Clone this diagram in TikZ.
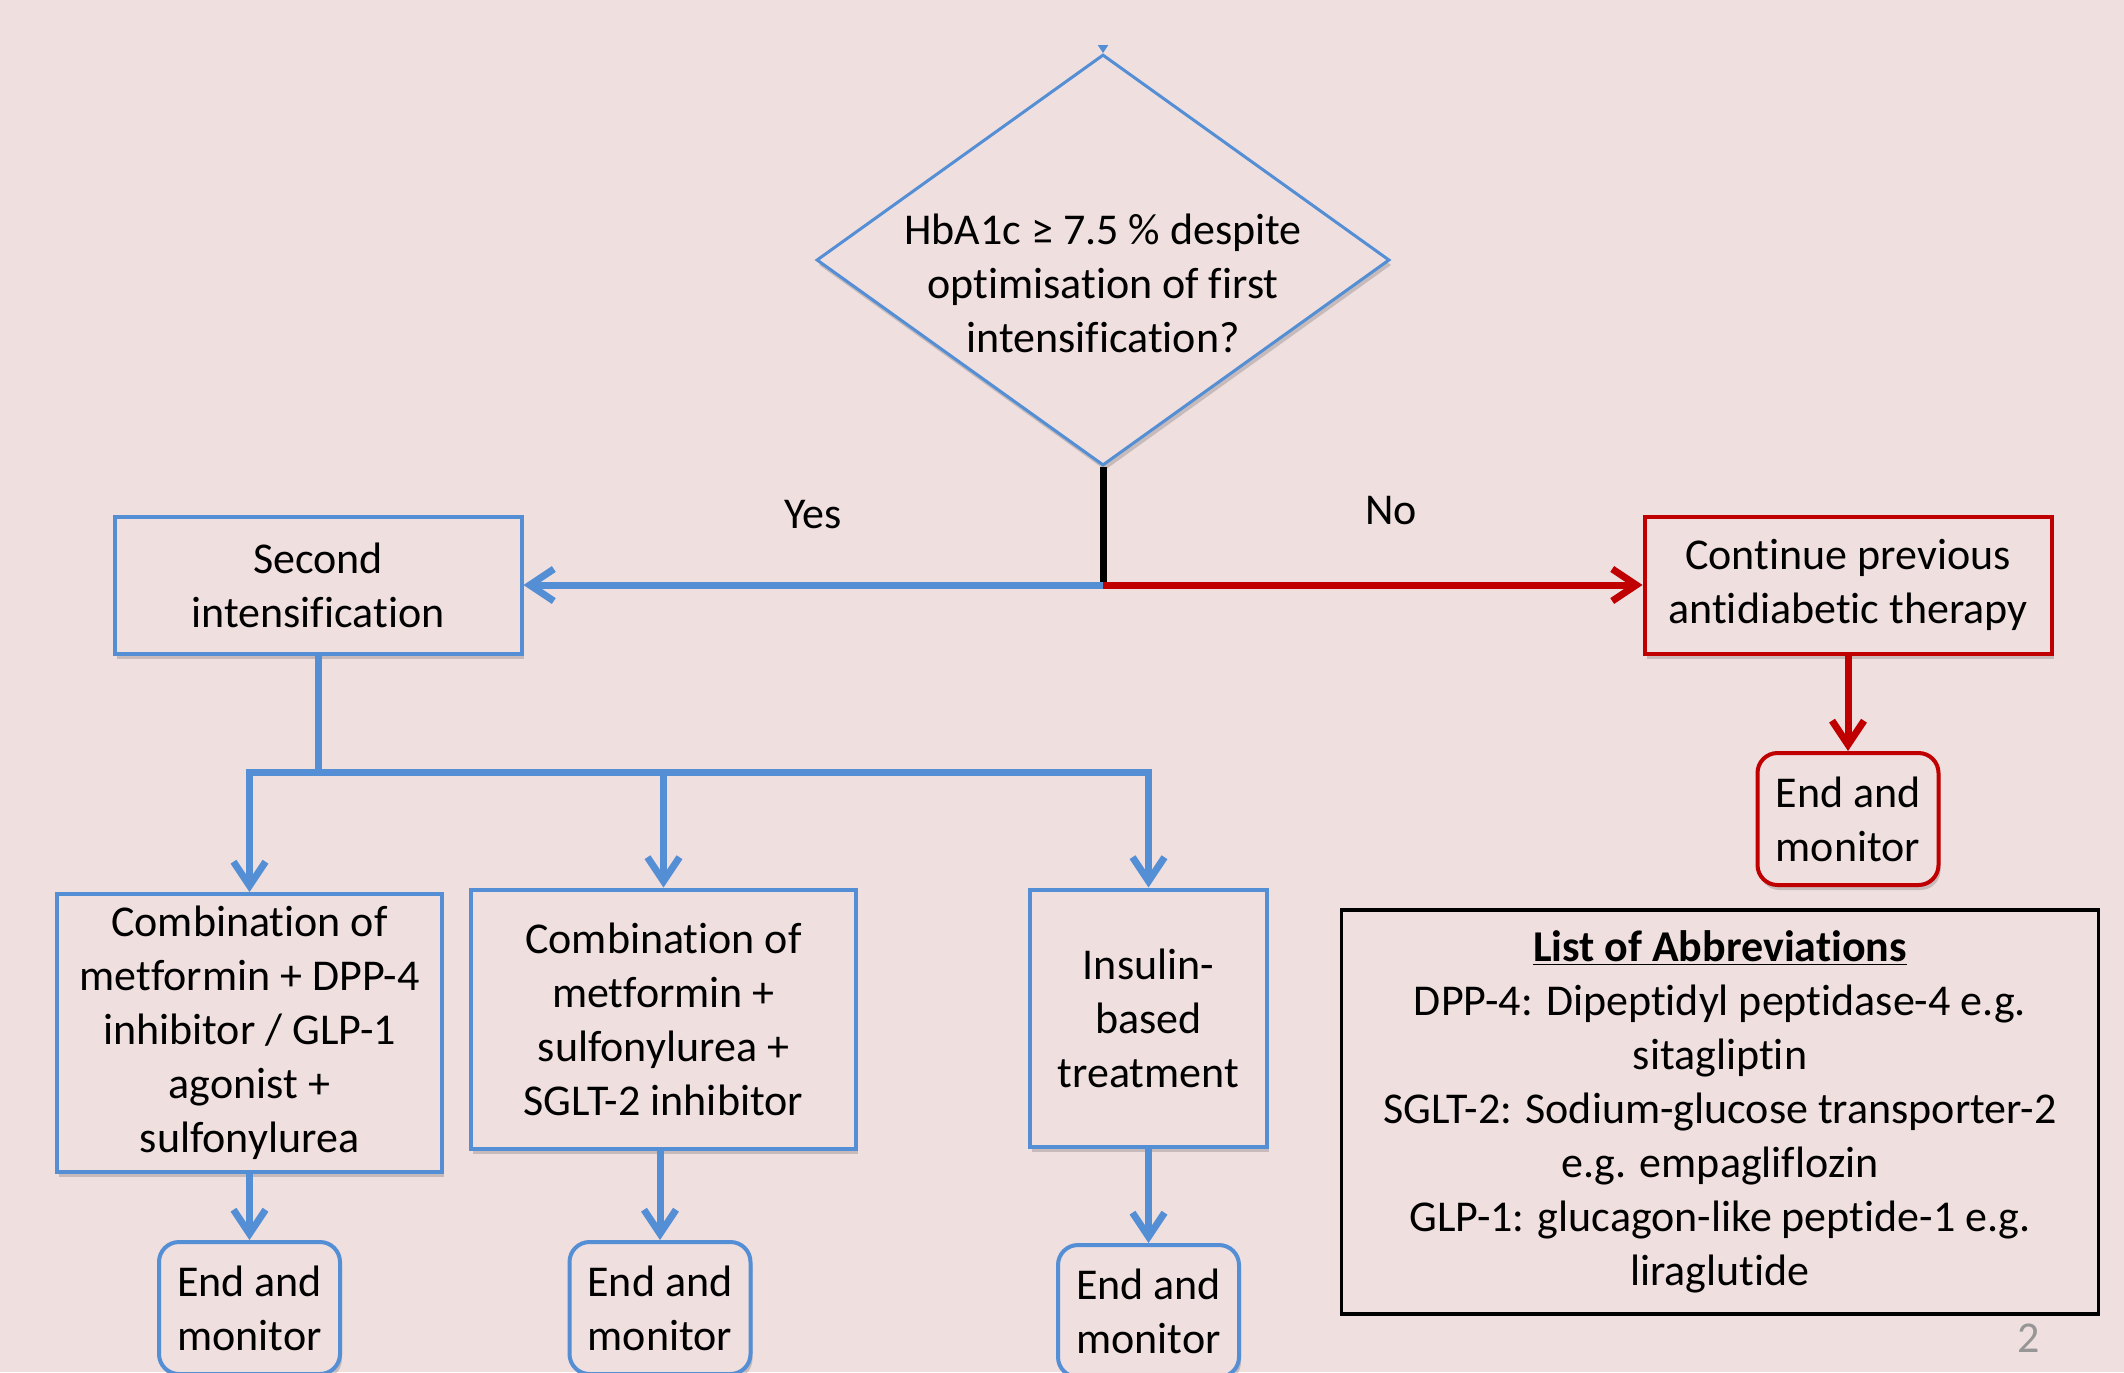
\documentclass[tikz,border=0pt]{standalone}
\usepackage{fontspec}
\setmainfont{Carlito}[Ligatures=NoCommon]
\usetikzlibrary{shapes.geometric,arrows.meta,shadows}

\definecolor{slidebg}{RGB}{239,223,223}
\definecolor{flowblue}{RGB}{84,142,213}
\definecolor{flowred}{RGB}{192,0,0}
\definecolor{pagegray}{RGB}{150,150,150}

\tikzset{every picture/.style={line width=0.75pt}}
\tikzset{
  boxshadow/.style={drop shadow={shadow xshift=1pt,shadow yshift=-2.5pt,opacity=0.25,fill=black!70}},
  stepbox/.style={draw=flowblue,line width=2pt,fill=slidebg,align=center,inner sep=0pt,boxshadow},
  nobox/.style={stepbox,draw=flowred},
  endbox/.style={stepbox,rounded corners=10pt,minimum width=90.5pt,minimum height=66pt},
  decision/.style={diamond,draw=flowblue,line width=1.5pt,fill=slidebg,inner sep=0pt,
    minimum width=286.5pt,minimum height=205.5pt,boxshadow},
  abbrbox/.style={draw=black,line width=1.75pt,align=center,inner sep=0pt,
    minimum width=378.5pt,minimum height=202pt},
  flow/.style={line width=3.5pt,color=flowblue},
  arr/.style={-{Straight Barb[length=12pt,width=16pt]}},
}

\begin{document}
\begin{tikzpicture}[x=0.5pt,y=0.5pt,yscale=-1,font=\fontsize{22}{27}\selectfont]
\useasboundingbox (0,0) rectangle (2124,1372);
\clip (0,0) rectangle (2124,1372);
\fill[slidebg] (0,0) rectangle (2124,1372);

% decision
\node[decision] (q) at (1103,260) {};
\node[align=center,inner sep=0pt] (qtext) at (1103,283) {HbA1c ≥ 7.5 \% despite\\optimisation of first\\intensification?};

% second level
\node[stepbox,minimum width=203.5pt,minimum height=68.5pt] (second) at (318,585) {Second\\intensification};
\node[nobox,minimum width=203.5pt,minimum height=68.5pt] (cont) at (1848,585) {Continue previous\\antidiabetic therapy};
\node[endbox,draw=flowred] (endR) at (1848,819) {End and\\monitor};

% options
\node[stepbox,minimum width=192.5pt,minimum height=139pt] (boxA) at (249.5,1033) {Combination of\\metformin + DPP-4\\inhibitor / GLP-1\\agonist +\\sulfonylurea};
\node[stepbox,minimum width=192.5pt,minimum height=129.5pt] (boxB) at (663.5,1019) {Combination of\\metformin +\\sulfonylurea +\\SGLT-2 inhibitor};
\node[stepbox,minimum width=118.5pt,minimum height=128.5pt] (boxC) at (1148.5,1018) {Insulin-\\based\\treatment};

\node[endbox] (endA) at (249.5,1308) {End and\\monitor};
\node[endbox] (endB) at (660,1308) {End and\\monitor};
\node[endbox] (endC) at (1148.5,1311) {End and\\monitor};

% labels
\node (yes) at (813,515) {Yes};
\node (no) at (1391,511) {No};

% abbreviations
\node[abbrbox] (abbr) at (1720,1112) {\underline{\textbf{List of Abbreviations}}\\
  DPP-4: Dipeptidyl peptidase-4 e.g.\\sitagliptin\\
  SGLT-2: Sodium-glucose transporter-2\\e.g. empagliflozin\\
  GLP-1: glucagon-like peptide-1 e.g.\\liraglutide};
\node[text=pagegray] (pagenum) at (2029,1338) {2};

% connectors
\coordinate (qin) at (1103,0);
\coordinate (fork) at (q.south |- second.east);
\coordinate (bus) at (318,772);
\begin{scope}
\clip (0,45) rectangle (2124,1372);
\draw[flow,arr] (qin) -- (q.north);
\end{scope}
\draw[line width=3.5pt,black] (q.south) -- (fork);
\draw[flow,arr] (fork) -- (second.east);
\draw[flow,arr,color=flowred] (fork) -- (cont.west);
\draw[flow,arr,color=flowred] (cont.south) -- (endR.north);
\draw[flow] (second.south) -- (bus);
\draw[flow,line cap=rect] (boxA.north |- bus) -- (boxC.north |- bus);
\foreach \b in {A,B,C}
  \draw[flow,arr] (box\b.north |- bus) -- (box\b.north);
\draw[flow,arr] (boxA.south) -- (endA.north);
\draw[flow,arr] (boxB.south -| endB.north) -- (endB.north);
\draw[flow,arr] (boxC.south) -- (endC.north);

\end{tikzpicture}
\end{document}
